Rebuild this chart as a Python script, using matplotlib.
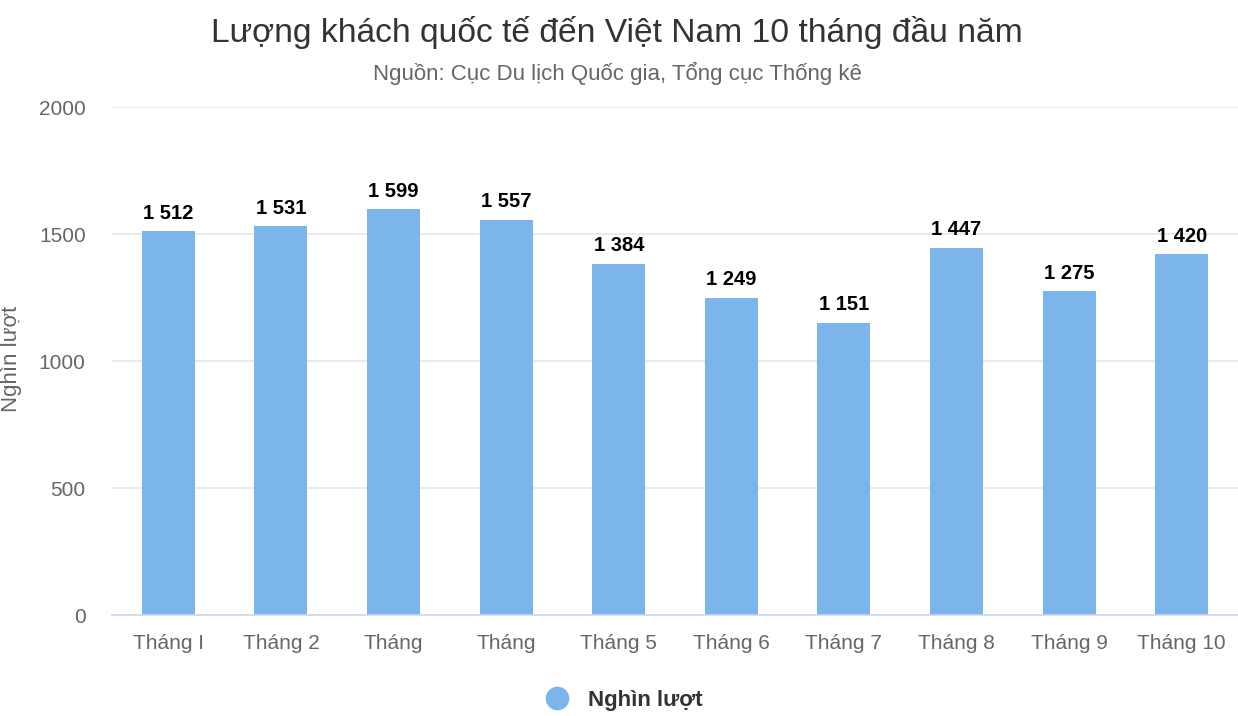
import matplotlib
matplotlib.use('Agg')
import matplotlib.pyplot as plt
from matplotlib.lines import Line2D

months = ['Tháng I', 'Tháng 2', 'Tháng', 'Tháng', 'Tháng 5',
          'Tháng 6', 'Tháng 7', 'Tháng 8', 'Tháng 9', 'Tháng 10']
values = [1512, 1531, 1599, 1557, 1384, 1249, 1151, 1447, 1275, 1420]
bar_labels = ['1 512', '1 531', '1 599', '1 557', '1 384',
              '1 249', '1 151', '1 447', '1 275', '1 420']
yticks = [0, 500, 1000, 1500, 2000]

plt.rcParams['font.family'] = ['Liberation Sans', 'DejaVu Sans']

fig = plt.figure(figsize=(12.38, 7.16), dpi=100)
ax = fig.add_axes([0.0905, 0.141, 0.9095, 0.7095])

x = range(len(months))
ax.bar(x, values, width=0.47, color='#7cb5ec', zorder=3)
for i, v in enumerate(values):
    ax.annotate(bar_labels[i], (i, v), xytext=(0, 6), textcoords='offset points',
                ha='center', va='bottom', fontsize=14.5, fontweight='bold', color='black')

ax.set_xlim(-0.5, len(months) - 0.5)
ax.set_ylim(0, 2000)
ax.set_yticks(yticks)
ax.set_yticklabels([str(t) for t in yticks])
ax.set_xticks(list(x))
ax.set_xticklabels(months)
ax.tick_params(axis='both', length=0, labelsize=15, colors='#666666')
ax.tick_params(axis='x', pad=14)
ax.tick_params(axis='y', pad=19)
ax.grid(axis='y', color='#e6e6e6', linewidth=1.2, zorder=0)
for s in ['top', 'right', 'left']:
    ax.spines[s].set_visible(False)
ax.spines['bottom'].set_color('#ccd6eb')
ax.spines['bottom'].set_linewidth(1.2)
ax.spines['bottom'].set_zorder(4)

# y axis title placed by hand so it is not cut at the left edge
fig.text(0.009, 0.4986, 'Nghìn lượt', rotation=90, ha='center', va='center',
         fontsize=16, color='#666666')

fig.text(0.4985, 0.955, 'Lượng khách quốc tế đến Việt Nam 10 tháng đầu năm',
         ha='center', va='center', fontsize=24.2, color='#333333')
fig.text(0.4985, 0.898, 'Nguồn: Cục Du lịch Quốc gia, Tổng cục Thống kê',
         ha='center', va='center', fontsize=16, color='#666666')

handle = Line2D([], [], marker='o', linestyle='none', markersize=16,
                markerfacecolor='#7cb5ec', markeredgecolor='#7cb5ec')
fig.legend([handle], ['Nghìn lượt'], loc='center', bbox_to_anchor=(0.5, 0.022),
           frameon=False, prop={'size': 16, 'weight': 'bold'}, labelcolor='#333333',
           handletextpad=0.4)

fig.savefig('out.png', dpi=100)
